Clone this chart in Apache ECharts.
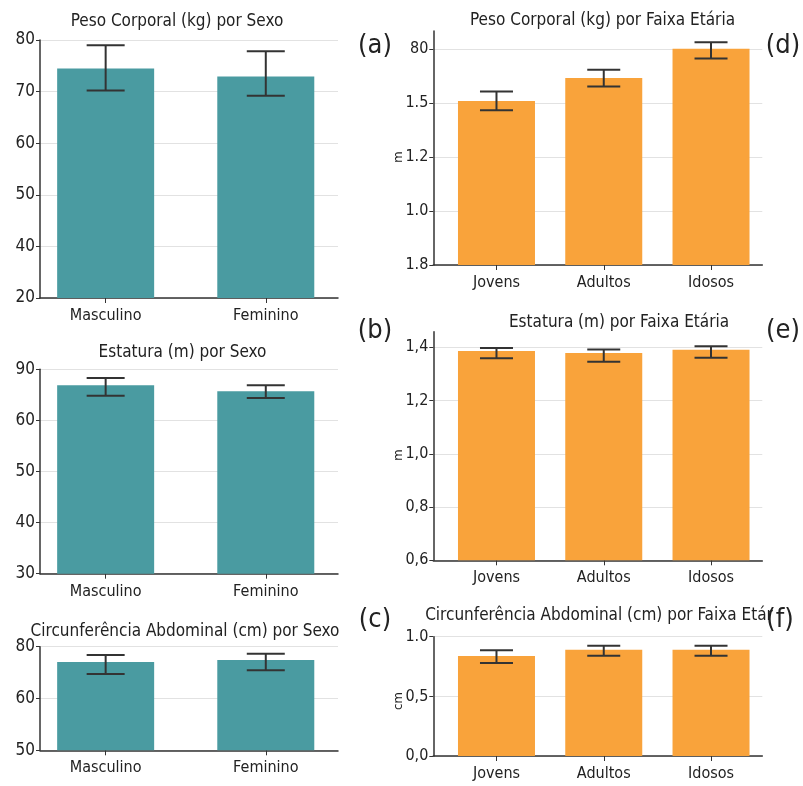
<!DOCTYPE html>
<html>
<head>
<meta charset="utf-8">
<script src="https://cdn.jsdelivr.net/npm/echarts@6/dist/echarts.min.js"></script>
<style>html,body{margin:0;padding:0;background:#fff}#c{width:803px;height:786px}</style>
</head>
<body>
<div id="c"></div>
<script>
// ---- data ----
const catsSexo = ['Masculino', 'Feminino'];
const catsIdade = ['Jovens', 'Adultos', 'Idosos'];

const pesoSexo = [74.5, 72.95];
const pesoSexoLow = [70.2, 69.2];
const pesoSexoHigh = [79.0, 77.8];
const pesoSexoTickVals = [30, 40, 50, 60, 70, 80];
const pesoSexoTicks = ['20', '40', '50', '60', '70', '80'];

const estSexo = [66.9, 65.7];
const estSexoLow = [64.8, 64.4];
const estSexoHigh = [68.3, 66.9];
const estSexoTickVals = [30, 40, 50, 60, 70];
const estSexoTicks = ['30', '40', '50', '60', '90'];

const circSexo = [74.1, 74.9];
const circSexoLow = [69.5, 70.9];
const circSexoHigh = [76.8, 77.3];
const circSexoTickVals = [40, 60, 80];
const circSexoTicks = ['50', '60', '80'];

const pesoIdade = [1.408, 1.494, 1.602];
const pesoIdadeLow = [1.374, 1.462, 1.566];
const pesoIdadeHigh = [1.444, 1.524, 1.626];
const pesoIdadeTickVals = [0.8, 1.0, 1.2, 1.4, 1.6];
const pesoIdadeTicks = ['1.8', '1.0', '1.2', '1.5', '80'];

const estIdade = [1.386, 1.379, 1.391];
const estIdadeLow = [1.359, 1.346, 1.361];
const estIdadeHigh = [1.397, 1.392, 1.404];
const estIdadeTickVals = [0.6, 0.8, 1.0, 1.2, 1.4];
const estIdadeTicks = ['0,6', '0,8', '1,0', '1,2', '1,4'];

const circIdade = [0.838, 0.891, 0.891];
const circIdadeLow = [0.780, 0.841, 0.841];
const circIdadeHigh = [0.886, 0.925, 0.925];
const circIdadeTickVals = [0.0, 0.5, 1.0];
const circIdadeTicks = ['0,0', '0,5', '1.0'];

// ---- styling ----
const FONT = 'DejaVu Sans Condensed';
const TEAL = '#4a9ba1';
const ORANGE = '#f9a33b';
const AX = '#333333';

const panels = [
  {cats: catsSexo, v: pesoSexo, lo: pesoSexoLow, hi: pesoSexoHigh, tv: pesoSexoTickVals, tl: pesoSexoTicks,
   ymin: 30, ymax: 80, left: 40, width: 298, top: 40, height: 258, xmin: -0.41, xmax: 1.451, bw: 97, cap: 19, color: TEAL, fs: 17},
  {cats: catsSexo, v: estSexo, lo: estSexoLow, hi: estSexoHigh, tv: estSexoTickVals, tl: estSexoTicks,
   ymin: 30, ymax: 70, left: 40, width: 298, top: 369.3, height: 204.4, xmin: -0.41, xmax: 1.451, bw: 97, cap: 19, color: TEAL, fs: 17},
  {cats: catsSexo, v: circSexo, lo: circSexoLow, hi: circSexoHigh, tv: circSexoTickVals, tl: circSexoTicks,
   ymin: 40, ymax: 80, left: 40, width: 298, top: 646.7, height: 103.6, xmin: -0.41, xmax: 1.451, bw: 97, cap: 19, color: TEAL, fs: 17},
  {cats: catsIdade, v: pesoIdade, lo: pesoIdadeLow, hi: pesoIdadeHigh, tv: pesoIdadeTickVals, tl: pesoIdadeTicks,
   ymin: 0.8, ymax: 1.668, left: 433.3, width: 329, top: 31, height: 234, xmin: -0.589, xmax: 2.478, bw: 77, cap: 16.5, color: ORANGE, fs: 16},
  {cats: catsIdade, v: estIdade, lo: estIdadeLow, hi: estIdadeHigh, tv: estIdadeTickVals, tl: estIdadeTicks,
   ymin: 0.6, ymax: 1.4586, left: 433.3, width: 329, top: 331.7, height: 228.6, xmin: -0.589, xmax: 2.478, bw: 77, cap: 16.5, color: ORANGE, fs: 16},
  {cats: catsIdade, v: circIdade, lo: circIdadeLow, hi: circIdadeHigh, tv: circIdadeTickVals, tl: circIdadeTicks,
   ymin: 0.0, ymax: 1.0, left: 433.3, width: 329, top: 636.7, height: 119.3, xmin: -0.589, xmax: 2.478, bw: 77, cap: 16.5, color: ORANGE, fs: 16}
];

const grids = [], xAxes = [], yAxes = [], series = [];
panels.forEach((p, i) => {
  grids.push({left: p.left, top: p.top, width: p.width, height: p.height, containLabel: false});
  const xIdx = p.cats.map((c, k) => k);
  xAxes.push({
    type: 'value', gridIndex: i, min: p.xmin, max: p.xmax,
    axisLine: {show: true, onZero: false, lineStyle: {color: AX, width: 1.5}},
    axisTick: {show: true, customValues: xIdx, length: 5, lineStyle: {color: AX, width: 1}},
    axisLabel: {customValues: xIdx, formatter: v => p.cats[Math.round(v)] || '', margin: 10,
      fontFamily: FONT, fontSize: 16, color: '#222'},
    splitLine: {show: false}
  });
  yAxes.push({
    type: 'value', gridIndex: i, min: p.ymin, max: p.ymax,
    axisLine: {show: true, onZero: false, lineStyle: {color: AX, width: 1.5}},
    axisTick: {show: true, customValues: p.tv, length: 4, lineStyle: {color: AX, width: 1}},
    axisLabel: {customValues: p.tv, margin: 5, fontFamily: FONT, fontSize: p.fs, color: '#222',
      formatter: v => {
        let best = -1, bd = 1e9;
        p.tv.forEach((t, k) => { const d = Math.abs(t - v); if (d < bd) { bd = d; best = k; } });
        return bd < 1e-6 ? p.tl[best] : '';
      }},
    splitLine: {show: true, lineStyle: {color: '#e2e2e2', width: 1}}
  });
  series.push({
    type: 'bar', xAxisIndex: i, yAxisIndex: i, barWidth: p.bw,
    itemStyle: {color: p.color}, silent: true,
    data: p.v.map((v, k) => [k, v])
  });
  series.push({
    type: 'custom', xAxisIndex: i, yAxisIndex: i, silent: true, z: 5,
    encode: {x: 0, y: [1, 2]},
    data: p.v.map((v, k) => [k, p.lo[k], p.hi[k]]),
    renderItem: (params, api) => {
      const x = api.value(0);
      const a = api.coord([x, api.value(1)]);
      const b = api.coord([x, api.value(2)]);
      const st = {stroke: AX, lineWidth: 2};
      return {type: 'group', children: [
        {type: 'line', shape: {x1: a[0], y1: a[1], x2: b[0], y2: b[1]}, style: st},
        {type: 'line', shape: {x1: a[0] - p.cap, y1: a[1], x2: a[0] + p.cap, y2: a[1]}, style: st},
        {type: 'line', shape: {x1: b[0] - p.cap, y1: b[1], x2: b[0] + p.cap, y2: b[1]}, style: st}
      ]};
    }
  });
});

function txt(text, x, y, size, rot) {
  return {type: 'text', x: x, y: y, rotation: rot || 0, silent: true,
    style: {text: text, fontFamily: FONT, fontSize: size, fill: '#222', textAlign: 'center', textVerticalAlign: 'middle'}};
}
const graphic = [
  txt('Peso Corporal (kg) por Sexo', 177, 22, 17),
  txt('Estatura (m) por Sexo', 182.5, 353, 17),
  txt('Circunferência Abdominal (cm) por Sexo', 185, 632, 17),
  txt('Peso Corporal (kg) por Faixa Etária', 602.5, 21, 17),
  txt('Estatura (m) por Faixa Etária', 619, 323, 17),
  txt('Circunferência Abdominal (cm) por Faixa Etár', 599, 616, 17),
  txt('(a)', 375, 46, 27),
  txt('(b)', 375, 331, 27),
  txt('(c)', 375, 620, 27),
  txt('(d)', 783, 46, 27),
  txt('(e)', 783, 331, 27),
  txt('(f)', 780, 620, 27),
  txt('m', 399, 157, 13, Math.PI / 2),
  txt('m', 399, 455, 13, Math.PI / 2),
  txt('cm', 399, 701, 13, Math.PI / 2)
];

const chart = echarts.init(document.getElementById('c'), null, {renderer: 'canvas'});
chart.setOption({
  animation: false,
  grid: grids, xAxis: xAxes, yAxis: yAxes, series: series, graphic: graphic
});
</script>
</body>
</html>
